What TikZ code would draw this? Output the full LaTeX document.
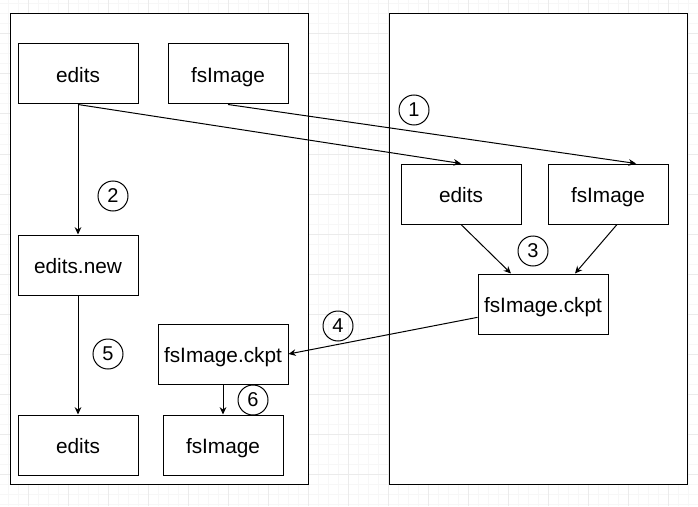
\documentclass[tikz,border=0pt]{standalone}
\usepackage{fontspec}
\setmainfont{Liberation Sans}
\usetikzlibrary{arrows.meta}
\definecolor{gridminor}{HTML}{F7F7F7}
\definecolor{gridmajor}{HTML}{EBEBEB}

\begin{document}
\begin{tikzpicture}[x=0.75pt,y=-0.75pt,font=\fontsize{15.6}{18}\selectfont,
  host/.style={rectangle,draw,fill=white,line width=0.75pt,minimum width=223.5pt,minimum height=352.5pt,inner sep=0pt},
  b/.style={rectangle,draw,fill=white,line width=0.75pt,minimum width=90pt,minimum height=45pt,inner sep=2pt,text height=13.4pt,text depth=0pt},
  bw/.style={b,minimum width=97.5pt},
  num/.style={circle,draw,line width=0.75pt,minimum size=22.5pt,inner sep=0pt,font=\fontsize{15}{17}\selectfont},
  ar/.style={-{Stealth[length=5.5pt,width=5pt]},line width=0.75pt}]
  \useasboundingbox (0,0) rectangle (698,506);
  % background grid
  \foreach \gx in {8,18,...,698} \draw[gridminor,line width=0.75pt] (\gx,0) -- (\gx,506);
  \foreach \gy in {4,14,...,504} \draw[gridminor,line width=0.75pt] (0,\gy) -- (698,\gy);
  \foreach \gx in {28,68,...,668} \draw[gridmajor,line width=0.75pt] (\gx,0) -- (\gx,506);
  \foreach \gy in {34,74,...,474} \draw[gridmajor,line width=0.75pt] (0,\gy) -- (698,\gy);
  % two machines
  \node[host] (lhost) at (159,249) {};
  \node[host] (rhost) at (538,249) {};
  % left side
  \node[b] (ed1) at (78,74) {edits};
  \node[b] (fs1) at (228,74) {fsImage};
  \node[b] (edn) at (78,265) {edits.new};
  \node[bw] (ck1) at (223,354) {fsImage.ckpt};
  \node[b] (ed2) at (78,445) {edits};
  \node[b] (fs2) at (223,445) {fsImage};
  % right side
  \node[b] (ed3) at (461,194) {edits};
  \node[b] (fs3) at (608,194) {fsImage};
  \node[bw] (ck2) at (543,304) {fsImage.ckpt};
  % steps
  \node[num] (n1) at (414,110) {1};
  \node[num] (n2) at (113,196) {2};
  \node[num] (n3) at (533,251) {3};
  \node[num] (n4) at (338,326) {4};
  \node[num] (n5) at (108,354) {5};
  \node[num] (n6) at (253,400) {6};
  % arrows
  \draw[ar] (ed1.south) -- (edn.north);
  \draw[ar] (ed1.south) -- (ed3.north);
  \draw[ar] (fs1.south) -- ([xshift=21pt]fs3.north);
  \draw[ar] (ed3.south) -- ([xshift=-24pt]ck2.north);
  \draw[ar] ([xshift=6.75pt]fs3.south) -- ([xshift=24pt]ck2.north);
  \draw[ar] ([yshift=-10pt]ck2.west) -- (ck1.east);
  \draw[ar] (edn.south) -- (ed2.north);
  \draw[ar] (ck1.south) -- (fs2.north);
\end{tikzpicture}
\end{document}
